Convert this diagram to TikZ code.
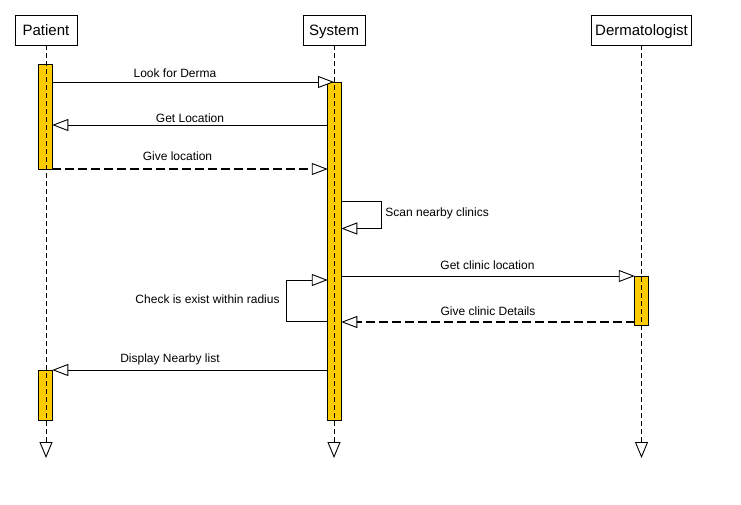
\documentclass[tikz,border=0pt]{standalone}
\usepackage{fontspec}
\setmainfont{Liberation Sans}
\usetikzlibrary{arrows.meta}
\definecolor{actcol}{RGB}{255,204,0}
\begin{document}
\begin{tikzpicture}[x=1pt,y=-1pt,line width=0.9pt,
  head/.style={draw,fill=white,minimum height=30pt,inner sep=0pt,text height=11pt,text depth=0pt,font=\fontsize{15}{17}\selectfont},
  actbar/.style={draw,fill=actcol,minimum width=13.5pt,inner sep=0pt,anchor=north},
  lifeline/.style={dash pattern=on 5pt off 3pt,-{Triangle[open,length=16pt,width=13pt,fill=white]}},
  msg/.style={-{Triangle[open,length=16pt,width=12pt,fill=white,line width=0.9pt]}},
  reply/.style={msg,dash pattern=on 9pt off 4pt,line width=1.5pt},
  lbl/.style={font=\fontsize{12}{14}\selectfont,inner sep=0pt}]
\useasboundingbox (0,0) rectangle (741,504);
% headers
\node[head,minimum width=62pt] (patient) at (46,30) {Patient};
\node[head,minimum width=62pt] (system) at (334,30) {System};
\node[head,minimum width=100pt] (derma) at (641.5,30) {Dermatologist};
% activation bars
\node[actbar,minimum height=105pt] (pa1) at (45.5,64) {};
\node[actbar,minimum height=50pt] (pa2) at (45.5,370) {};
\node[actbar,minimum height=338pt] (sa) at (334.5,82) {};
\node[actbar,minimum height=49pt] (da) at (641.5,276) {};
% lifelines
\coordinate (pend) at (46,458);
\coordinate (send) at (334,458);
\coordinate (dend) at (641.5,458);
\draw[lifeline] (patient.south) -- (pend);
\draw[lifeline] (system.south) -- (send);
\draw[lifeline] (derma.south) -- (dend);
% message end points
\coordinate (m1a) at (52.25,82);  \coordinate (m1b) at (334,82);
\coordinate (m2a) at (327.75,125); \coordinate (m2b) at (52.25,125);
\coordinate (m3a) at (52.25,169); \coordinate (m3b) at (327.75,169);
\coordinate (s1a) at (341.25,201); \coordinate (s1r) at (381.5,201);
\coordinate (s1q) at (381.5,228.5); \coordinate (s1b) at (341.25,228.5);
\coordinate (m5a) at (341.25,276); \coordinate (m5b) at (634.75,276);
\coordinate (c1a) at (327.75,321); \coordinate (c1l) at (286.5,321);
\coordinate (c1q) at (286.5,280); \coordinate (c1b) at (327.75,280);
\coordinate (m7a) at (634.75,322); \coordinate (m7b) at (341.25,322);
\coordinate (m8a) at (327.75,370); \coordinate (m8b) at (52.25,370);
% messages
\draw[msg] (m1a) -- (m1b);
\draw[msg] (m2a) -- (m2b);
\draw[reply] (m3a) -- (m3b);
\draw[msg] (s1a) -- (s1r) -- (s1q) -- (s1b);
\draw[msg] (m5a) -- (m5b);
\draw[msg] (c1a) -- (c1l) -- (c1q) -- (c1b);
\draw[reply] (m7a) -- (m7b);
\draw[msg] (m8a) -- (m8b);
% labels
\node[lbl] (l1) at (175,73) {Look for Derma};
\node[lbl] (l2) at (190,118.5) {Get Location};
\node[lbl] (l3) at (177.5,156.5) {Give location};
\node[lbl,anchor=west] (l4) at (385,213) {Scan nearby clinics};
\node[lbl] (l5) at (487.5,265) {Get clinic location};
\node[lbl,anchor=east] (l6) at (280,299) {Check is exist within radius};
\node[lbl] (l7) at (488,311) {Give clinic Details};
\node[lbl] (l8) at (170,359) {Display Nearby list};
\end{tikzpicture}
\end{document}
